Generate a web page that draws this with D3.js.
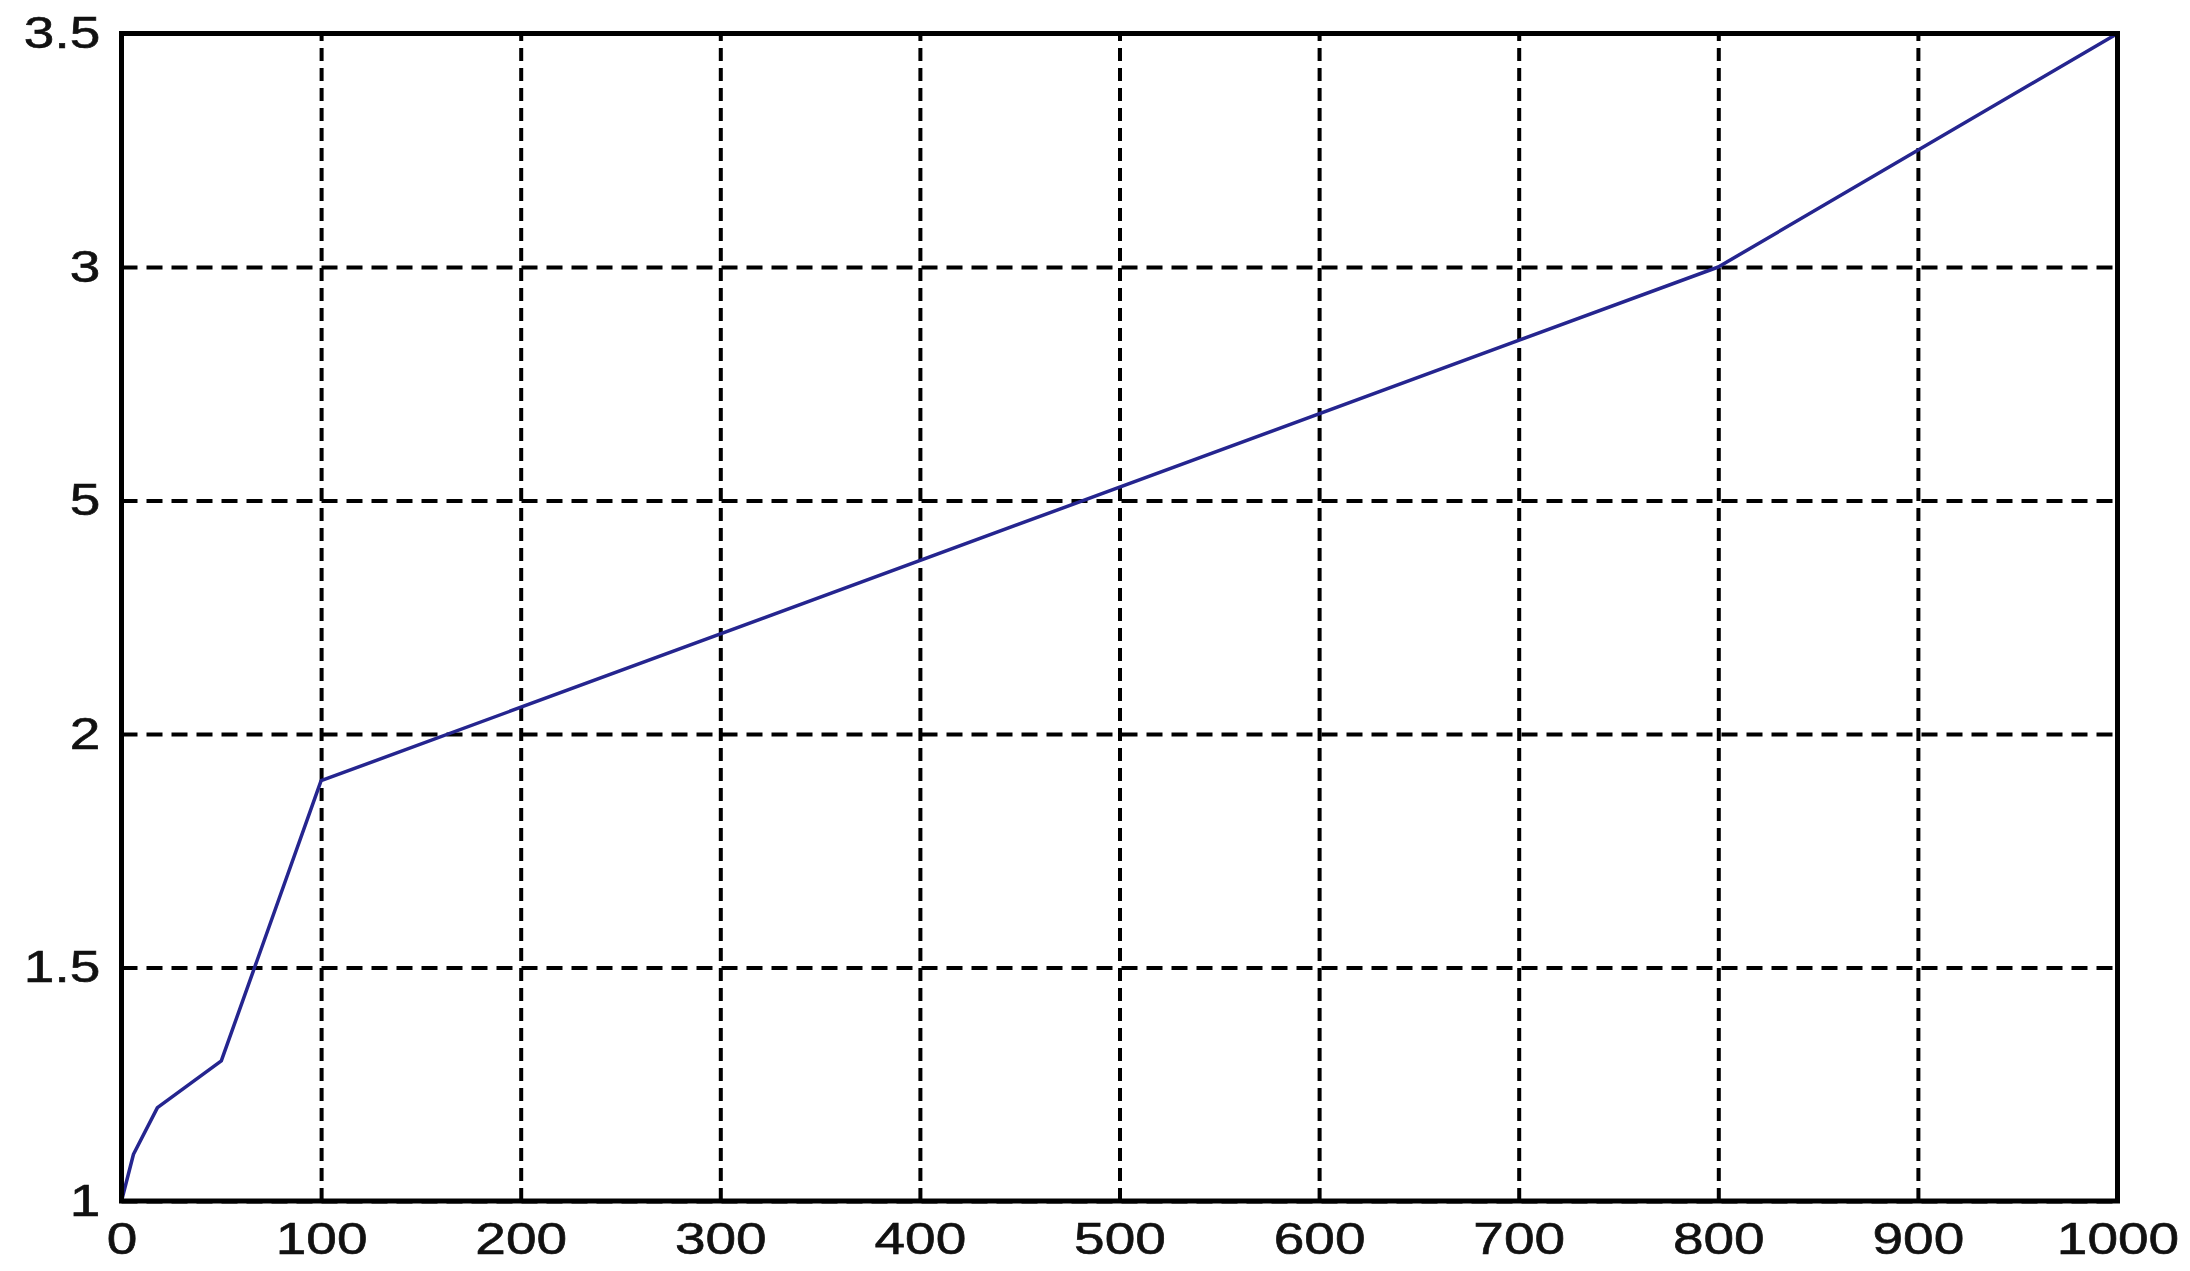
<!DOCTYPE html>
<html>
<head>
<meta charset="utf-8">
<script src="https://cdn.jsdelivr.net/npm/d3@7"></script>
<style>
  body { margin: 0; background: #fff; }
  text { font-family: "Liberation Sans", Arial, sans-serif; }
</style>
</head>
<body>
<div id="chart"></div>
<script>
// data
const xValues = [0, 6, 18, 50, 100, 800, 1000];
const yValues = [1, 1.1, 1.2, 1.3, 1.9, 3.0, 3.5];

const xTicks = [0, 100, 200, 300, 400, 500, 600, 700, 800, 900, 1000];
const yTicks = [1, 1.5, 2, 2.5, 3, 3.5];
const yTickLabels = ["1", "1.5", "2", "5", "3", "3.5"]; // as printed in the original

const width = 2190, height = 1271;
const margin = {top: 33.5, right: 72.5, bottom: 70, left: 121.5};
const w = width - margin.left - margin.right;
const h = height - margin.top - margin.bottom;

const svg = d3.select("#chart").append("svg")
    .attr("width", width)
    .attr("height", height)
    .style("background-color", "white");

const g = svg.append("g").attr("transform", `translate(${margin.left},${margin.top})`);

const x = d3.scaleLinear().domain([0, 1000]).range([0, w]);
const y = d3.scaleLinear().domain([1, 3.5]).range([h, 0]);

// grid lines
g.append("g")
    .attr("transform", `translate(0,${h})`)
    .call(d3.axisBottom(x).tickValues(xTicks).tickSize(-h).tickFormat(""))
    .call(s => s.select(".domain").remove())
    .selectAll("line")
    .attr("stroke", "#000")
    .attr("stroke-width", 4)
    .attr("stroke-dasharray", "13,7");

g.append("g")
    .call(d3.axisLeft(y).tickValues(yTicks).tickSize(-w).tickFormat(""))
    .call(s => s.select(".domain").remove())
    .selectAll("line")
    .attr("stroke", "#000")
    .attr("stroke-width", 4)
    .attr("stroke-dasharray", "16,9");

// the curve
const line = d3.line()
    .x((d, i) => x(xValues[i]))
    .y(d => y(d));

g.append("path")
    .datum(yValues)
    .attr("d", line)
    .attr("fill", "none")
    .attr("stroke", "#25258f")
    .attr("stroke-width", 3.5)
    .attr("stroke-linejoin", "round");

// frame
g.append("rect")
    .attr("width", w)
    .attr("height", h)
    .attr("fill", "none")
    .attr("stroke", "#000")
    .attr("stroke-width", 5);

// tick labels (the original text is stretched sideways)
const xAxis = g.append("g")
    .attr("transform", `translate(0,${h})`)
    .call(d3.axisBottom(x).tickValues(xTicks).tickSize(0).tickPadding(22).tickFormat(d3.format("d")));
xAxis.select(".domain").remove();
xAxis.selectAll("text")
    .attr("font-size", 44)
    .attr("fill", "#111")
    .attr("stroke", "#111")
    .attr("stroke-width", 0.6)
    .attr("transform", "scale(1.25,1)");

const yAxis = g.append("g")
    .call(d3.axisLeft(y).tickValues(yTicks).tickSize(0).tickPadding(17)
        .tickFormat((d, i) => yTickLabels[i]));
yAxis.select(".domain").remove();
yAxis.selectAll("text")
    .attr("font-size", 44)
    .attr("fill", "#111")
    .attr("stroke", "#111")
    .attr("stroke-width", 0.6)
    .attr("transform", "scale(1.25,1)");
</script>
</body>
</html>
